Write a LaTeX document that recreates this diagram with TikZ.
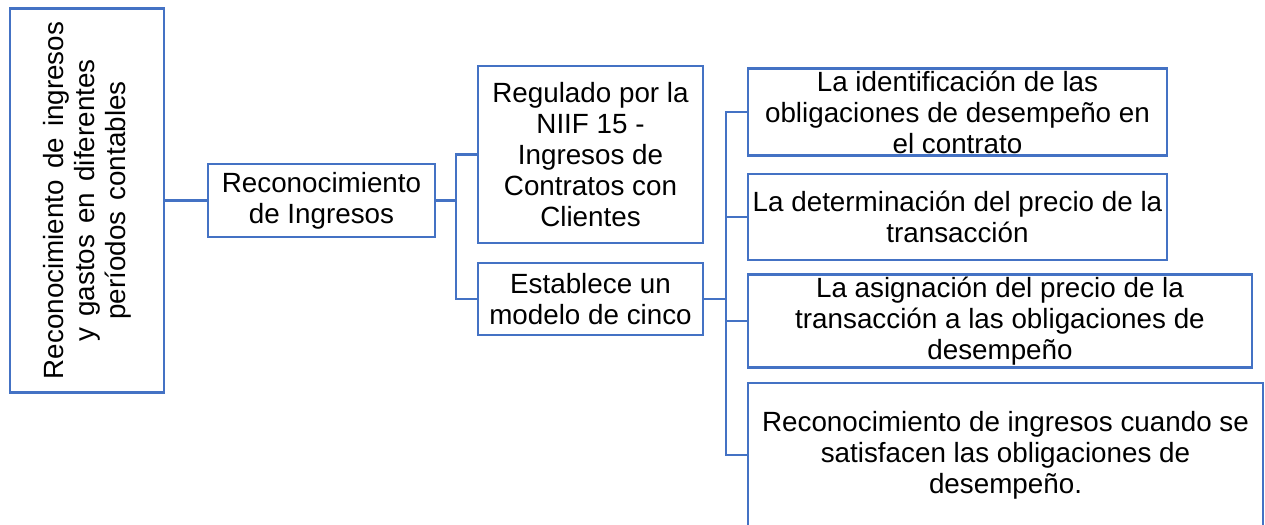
\documentclass[tikz,border=0pt]{standalone}
\usepackage{fontspec}
\setmainfont{Liberation Sans}
\definecolor{azul}{RGB}{68,114,196}

\tikzset{every picture/.style={line width=1.4pt}}
\tikzset{caja/.style={draw=azul, fill=white, align=center, inner sep=1pt, font=\fontsize{13.9}{15.5}\selectfont}}
\tikzset{rama/.style={draw=azul}}
\newcommand{\espacioancho}{\spaceskip=0.4em\relax}

\begin{document}
\begin{tikzpicture}[x=0.5pt,y=0.5pt,yscale=-1,xscale=1]
	\useasboundingbox (0,0) rectangle (1265,525);
	
	%Shape: Rectangle (rotated text)
	\node [caja, rotate=90, minimum width=192pt, minimum height=77pt, font=\fontsize{13.9}{15.5}\selectfont\espacioancho] (contexto) at (87,200.5) {Reconocimiento de ingresos\\y gastos en diferentes\\períodos contables};
	%Shape: Rectangle
	\node [caja, minimum width=113.5pt, minimum height=36.5pt] (ingresos) at (321.5,200.5) {Reconocimiento\\de Ingresos};
	%Shape: Rectangle
	\node [caja, minimum width=112.5pt, minimum height=88.5pt] (niif) at (590.5,154.5) {Regulado por la\\NIIF 15 -\\Ingresos de\\Contratos con\\Clientes};
	%Shape: Rectangle
	\node [caja, minimum width=112.5pt, minimum height=36pt] (modelo) at (590.5,299) {Establece un\\modelo de cinco};
	
	%Shape: Rectangle
	\node [caja, minimum width=209.5pt, minimum height=43pt] (paso1) at (957.5,112) {La identificación de las\\obligaciones de desempeño en\\el contrato};
	%Shape: Rectangle
	\node [caja, minimum width=209.5pt, minimum height=43pt] (paso2) at (957.5,217) {La determinación del precio de la\\transacción};
	%Shape: Rectangle
	\node [caja, minimum width=252pt, minimum height=43pt] (paso3) at (1000,321) {La asignación del precio de la\\transacción a las obligaciones de\\desempeño};
	%Shape: Rectangle
	\node [caja, minimum width=257.5pt, minimum height=72pt] (paso4) at (1005.5,455) {Reconocimiento de ingresos cuando se\\satisfacen las obligaciones de\\desempeño.};
	
	%Straight Lines
	\coordinate (nudo1) at (456,200.5);
	\coordinate (nudo2) at (726,299);
	\draw [rama] (contexto.south) -- (ingresos.west);
	\draw [rama] (ingresos.east) -- (nudo1);
	\draw [rama] (nudo1) |- (niif.west);
	\draw [rama] (nudo1) |- (modelo.west);
	\draw [rama] (modelo.east) -- (nudo2);
	\foreach \p in {paso1,paso2,paso3,paso4}
		\draw [rama] (nudo2) |- (\p.west);
	
\end{tikzpicture}
\end{document}
